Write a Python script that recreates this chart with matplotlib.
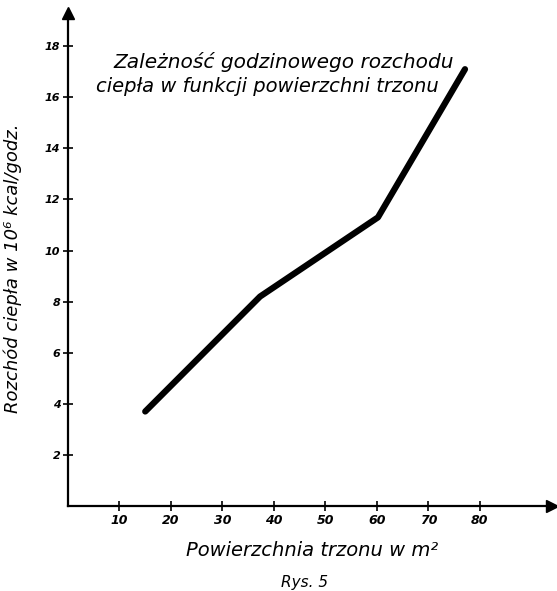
import matplotlib
matplotlib.use('Agg')
import matplotlib.pyplot as plt

# values
area = [15, 37.3, 60.2, 77.1]          # powierzchnia trzonu, m2
heat = [3.7, 8.2, 11.3, 17.1]          # rozchod ciepla, 10^6 kcal/godz.
x_ticks = [10, 20, 30, 40, 50, 60, 70, 80]
y_ticks = [2, 4, 6, 8, 10, 12, 14, 16, 18]

title1 = "Zależność godzinowego rozchodu"
title2 = "ciepła w funkcji powierzchni trzonu"
xlabel = "Powierzchnia trzonu w m²"
ylabel = "Rozchód ciepła w 10⁶ kcal/godz."
caption = "Rys. 5"

fig = plt.figure(figsize=(5.57, 5.91), dpi=100)
ax = fig.add_axes([68 / 557, 85 / 591, 484 / 557, 493 / 591])

ax.plot(area, heat, color='black', lw=4.5, solid_capstyle='round',
        solid_joinstyle='round')

ax.set_xlim(0, 94)
ax.set_ylim(0, 19.3)
ax.set_xticks(x_ticks)
ax.set_yticks(y_ticks)
ax.set_xticklabels([str(v) for v in x_ticks], fontsize=9, style='italic',
                   fontweight='bold')
ax.set_yticklabels([str(v) for v in y_ticks], fontsize=8, style='italic',
                   fontweight='bold')
ax.tick_params(direction='inout', length=7, width=1.2, pad=2)

for s in ['top', 'right']:
    ax.spines[s].set_visible(False)
for s in ['left', 'bottom']:
    ax.spines[s].set_linewidth(1.6)

# arrow heads at ends of axes
ax.plot(1, 0, '>k', ms=9, transform=ax.get_yaxis_transform(), clip_on=False)
ax.plot(0, 1, '^k', ms=9, transform=ax.get_xaxis_transform(), clip_on=False)

fig.text(284 / 557, 1 - 62 / 591, title1, ha='center', va='center',
         fontsize=14.5, style='italic')
fig.text(267 / 557, 1 - 86 / 591, title2, ha='center', va='center',
         fontsize=14, style='italic')
fig.text(312 / 557, 1 - 550 / 591, xlabel, ha='center', va='center',
         fontsize=14, style='italic')
fig.text(13 / 557, 1 - 268 / 591, ylabel, ha='center', va='center',
         fontsize=13, style='italic', rotation=90)
fig.text(305 / 557, 1 - 583 / 591, caption, ha='center', va='center',
         fontsize=11, style='italic')

plt.savefig('out.png', dpi=100)
